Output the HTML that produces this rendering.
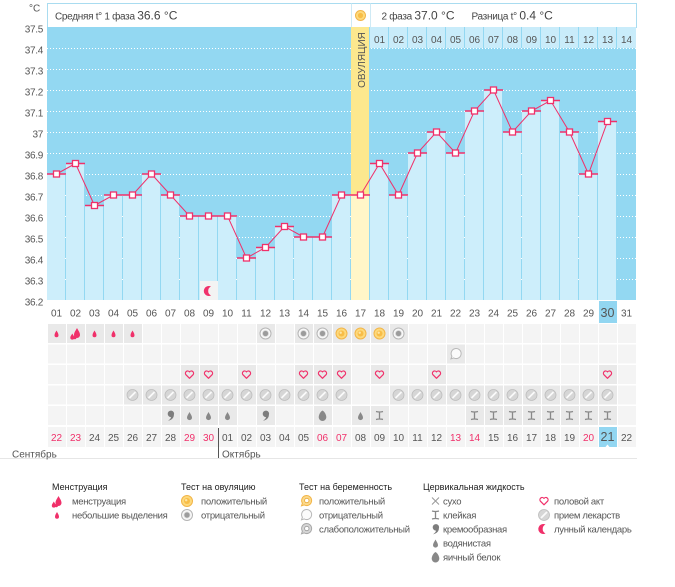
<!DOCTYPE html>
<html><head><meta charset="utf-8">
<style>
html,body{margin:0;padding:0;background:#fff;}
svg{display:block;}
.t{font-family:"Liberation Sans",sans-serif;font-size:10px;fill:#555;}
.h{font-family:"Liberation Sans",sans-serif;font-size:10px;fill:#444;letter-spacing:-0.3px;}
.lg{font-family:"Liberation Sans",sans-serif;font-size:9px;fill:#222;}
.li{font-family:"Liberation Sans",sans-serif;font-size:9.5px;fill:#555;letter-spacing:-0.3px;}
.r{fill:#f0306a;}
</style></head>
<body>
<svg width="675" height="587" viewBox="0 0 675 587" xmlns="http://www.w3.org/2000/svg">
<defs>
<pattern id="pl" x="47" y="0" width="19" height="600" patternUnits="userSpaceOnUse"><rect x="1" y="0" width="18" height="600" fill="#f4f4f4"/></pattern>
<pattern id="pd" x="47" y="0" width="19" height="600" patternUnits="userSpaceOnUse"><rect x="1" y="0" width="18" height="600" fill="#e9e9e9"/></pattern>
<g id="drop"><path d="M0,-3.5 C0.8,-2 2,-0.5 2,1.2 A2,2 0 0 1 -2,1.2 C-2,-0.5 -0.8,-2 0,-3.5Z" fill="#f0306a"/></g>
<g id="mens"><path d="M1.5,-6 C2.7,-3.6 4.5,-1.6 4.5,1 A3,3 0 0 1 -1.5,1 C-1.5,-1.6 0.3,-3.6 1.5,-6Z" fill="#f0306a"/><path d="M-3.2,-0.5 C-2.4,1 -1.2,2.2 -1.2,3.6 A2,2 0 0 1 -5.2,3.6 C-5.2,2.2 -4,1 -3.2,-0.5Z" fill="#f0306a"/><path d="M-0.6,1 C0,2 0.9,2.8 0.9,3.8 A1.5,1.5 0 0 1 -2.1,3.8 C-2.1,2.8 -1.2,2 -0.6,1Z" fill="#f0306a"/></g>
<g id="ovp"><circle r="5.5" fill="#fdd97c" stroke="#f2b548" stroke-width="1"/><circle r="3" fill="#f8bd47"/><circle cx="-0.8" cy="-0.8" r="1.2" fill="#fde6a8"/></g>
<g id="ovn"><circle r="5.5" fill="#f8f8f8" stroke="#b5b5b5" stroke-width="1"/><circle r="3" fill="#9c9c9c" stroke="#d8d8d8" stroke-width="0.8"/></g>
<g id="pgn"><path d="M-4.5,4.8 L-3.6,2.2 A5,5 0 1 1 -1.8,3.9 Z" fill="#fbfbfb" stroke="#b8b8b8" stroke-width="1"/></g>
<g id="pgp"><path d="M-4.5,4.8 L-3.6,2.2 A5,5 0 1 1 -1.8,3.9 Z" fill="#fcd98a" stroke="#f2b548" stroke-width="1"/><circle cx="0.8" cy="-0.5" r="2.2" fill="#fff" stroke="#e8a93a" stroke-width="0.8"/></g>
<g id="pgw"><path d="M-4.5,4.8 L-3.6,2.2 A5,5 0 1 1 -1.8,3.9 Z" fill="#d6d6d6" stroke="#a8a8a8" stroke-width="1"/><circle cx="0.8" cy="-0.5" r="2.2" fill="#fff" stroke="#999" stroke-width="0.8"/></g>
<g id="hrt"><path d="M0,3.8 L-3.6,0.2 A2,2 0 0 1 0,-2.6 A2,2 0 0 1 3.6,0.2 Z" fill="none" stroke="#f0306a" stroke-width="1.2" stroke-linejoin="round"/></g>
<g id="pil"><circle r="5.5" fill="#d6d6d6" stroke="#bdbdbd" stroke-width="0.8"/><path d="M-3,3 L3,-3" stroke="#fafafa" stroke-width="1.8"/></g>
<g id="crm"><path d="M-2.8,-1.6 A3.2,3.2 0 1 1 3.4,-0.6 C3.4,2.6 1,4.6 -2.6,5.4 C-0.4,3.8 0.6,2.4 0.4,1.6 A3.2,3.2 0 0 1 -2.8,-1.6Z" fill="#7d7d7d"/></g>
<g id="wat"><path d="M0,-4 C1.2,-1.8 2.5,0 2.5,1.6 A2.5,2.5 0 0 1 -2.5,1.6 C-2.5,0 -1.2,-1.8 0,-4Z" fill="#888"/></g>
<g id="egg"><path d="M0,-5.5 C2.5,-4 3.8,-0.8 3.8,1.2 A3.8,3.8 0 0 1 -3.8,1.2 C-3.8,-0.8 -2.5,-4 0,-5.5Z" fill="#888"/></g>
<g id="stk"><path d="M-3.5,-4 Q0,-3 3.5,-4 M0,-3.5 V3.5 M-3.5,4 Q0,3 3.5,4" fill="none" stroke="#888" stroke-width="1.3"/></g>
<g id="dry"><path d="M-3.5,-3.5 L3.5,3.5 M3.5,-3.5 L-3.5,3.5" stroke="#999" stroke-width="1"/></g>
<g id="moon"><path d="M2,-4.5 A5,5 0 1 0 2,4.5 A5,5 0 0 1 2,-4.5Z" fill="#f0306a"/></g>
</defs>

<!-- header box -->
<rect x="47.5" y="3.5" width="589" height="24" fill="#fff" stroke="#a9dcf0"/>
<line x1="351.5" y1="3.5" x2="351.5" y2="27" stroke="#cfeaf5"/>
<line x1="370.5" y1="3.5" x2="370.5" y2="27" stroke="#cfeaf5"/>
<text class="h" x="55" y="19.5">Средняя t° 1 фаза <tspan font-size="12" letter-spacing="0">36.6 °C</tspan></text>
<g transform="translate(360.5,15.5)"><circle r="5" fill="#fdd97c" stroke="#f2b548"/><circle r="2.6" fill="#f8bd47"/></g>
<text class="h" x="381.5" y="19.5">2 фаза <tspan font-size="12" letter-spacing="0">37.0 °C</tspan></text>
<text class="h" x="471.5" y="19.5">Разница t° <tspan font-size="12" letter-spacing="0">0.4 °C</tspan></text>

<!-- y axis -->
<text class="t" x="29" y="11.5" font-size="12">°C</text>
<g class="t" text-anchor="end" letter-spacing="-0.3">
<text x="43" y="32.5">37.5</text>
<text x="43" y="53.5">37.4</text>
<text x="43" y="74.5">37.3</text>
<text x="43" y="95.5">37.2</text>
<text x="43" y="116.5">37.1</text>
<text x="43" y="137.5">37</text>
<text x="43" y="158.5">36.9</text>
<text x="43" y="179.5">36.8</text>
<text x="43" y="200.5">36.7</text>
<text x="43" y="221.5">36.6</text>
<text x="43" y="242.5">36.5</text>
<text x="43" y="263.5">36.4</text>
<text x="43" y="284.5">36.3</text>
<text x="43" y="305.5">36.2</text>
</g>

<!-- chart bg -->
<rect x="47" y="27" width="589" height="273" fill="#93d8f2"/>
<g stroke="#ffffff" stroke-dasharray="1 2" stroke-width="1">
<line x1="47" y1="48.5" x2="636" y2="48.5"/>
<line x1="47" y1="69.5" x2="636" y2="69.5"/>
<line x1="47" y1="90.5" x2="636" y2="90.5"/>
<line x1="47" y1="111.5" x2="636" y2="111.5"/>
<line x1="47" y1="132.5" x2="636" y2="132.5"/>
<line x1="47" y1="153.5" x2="636" y2="153.5"/>
<line x1="47" y1="174.5" x2="636" y2="174.5"/>
<line x1="47" y1="195.5" x2="636" y2="195.5"/>
<line x1="47" y1="216.5" x2="636" y2="216.5"/>
<line x1="47" y1="237.5" x2="636" y2="237.5"/>
<line x1="47" y1="258.5" x2="636" y2="258.5"/>
<line x1="47" y1="279.5" x2="636" y2="279.5"/>
</g>
<!-- ovulation column -->
<rect x="351" y="27" width="18" height="273" fill="#fce88e"/>
<text class="t" transform="translate(365,60) rotate(-90)" text-anchor="middle">ОВУЛЯЦИЯ</text>

<!-- phase 2 header -->
<g fill="#c9ecfa">
<rect x="370" y="27" width="18" height="21"/><rect x="389" y="27" width="18" height="21"/><rect x="408" y="27" width="18" height="21"/><rect x="427" y="27" width="18" height="21"/><rect x="446" y="27" width="18" height="21"/><rect x="465" y="27" width="18" height="21"/><rect x="484" y="27" width="18" height="21"/><rect x="503" y="27" width="18" height="21"/><rect x="522" y="27" width="18" height="21"/><rect x="541" y="27" width="18" height="21"/><rect x="560" y="27" width="18" height="21"/><rect x="579" y="27" width="18" height="21"/><rect x="598" y="27" width="18" height="21"/><rect x="617" y="27" width="19" height="21"/>
</g>
<g class="t" text-anchor="middle">
<text x="379.5" y="43">01</text><text x="398.5" y="43">02</text><text x="417.5" y="43">03</text><text x="436.5" y="43">04</text><text x="455.5" y="43">05</text><text x="474.5" y="43">06</text><text x="493.5" y="43">07</text><text x="512.5" y="43">08</text><text x="531.5" y="43">09</text><text x="550.5" y="43">10</text><text x="569.5" y="43">11</text><text x="588.5" y="43">12</text><text x="607.5" y="43">13</text><text x="626.5" y="43">14</text>
</g>

<!-- bars -->
<g fill="#cdeefb">
<rect x="47" y="174" width="18" height="126"/>
<rect x="66" y="163.5" width="18" height="136.5"/>
<rect x="85" y="205.5" width="18" height="94.5"/>
<rect x="104" y="195" width="18" height="105"/>
<rect x="123" y="195" width="18" height="105"/>
<rect x="142" y="174" width="18" height="126"/>
<rect x="161" y="195" width="18" height="105"/>
<rect x="180" y="216" width="18" height="84"/>
<rect x="199" y="216" width="18" height="84"/>
<rect x="218" y="216" width="18" height="84"/>
<rect x="237" y="258" width="18" height="42"/>
<rect x="256" y="247.5" width="18" height="52.5"/>
<rect x="275" y="226.5" width="18" height="73.5"/>
<rect x="294" y="237" width="18" height="63"/>
<rect x="313" y="237" width="18" height="63"/>
<rect x="332" y="195" width="18" height="105"/>
<rect x="351" y="195" width="18" height="105" fill="#fff6c8"/>
<rect x="370" y="163.5" width="18" height="136.5"/>
<rect x="389" y="195" width="18" height="105"/>
<rect x="408" y="153" width="18" height="147"/>
<rect x="427" y="132" width="18" height="168"/>
<rect x="446" y="153" width="18" height="147"/>
<rect x="465" y="111" width="18" height="189"/>
<rect x="484" y="90" width="18" height="210"/>
<rect x="503" y="132" width="18" height="168"/>
<rect x="522" y="111" width="18" height="189"/>
<rect x="541" y="100.5" width="18" height="199.5"/>
<rect x="560" y="132" width="18" height="168"/>
<rect x="579" y="174" width="18" height="126"/>
<rect x="598" y="121.5" width="18" height="178.5"/>
</g>

<!-- moon box -->
<rect x="200" y="281" width="18" height="19" fill="#f3f3f3"/>
<use href="#moon" x="209" y="291"/>

<!-- connecting line -->
<polyline fill="none" stroke="#f0306a" stroke-width="1" points="56.5,174 75.5,163.5 94.5,205.5 113.5,195 132.5,195 151.5,174 170.5,195 189.5,216 208.5,216 227.5,216 246.5,258 265.5,247.5 284.5,226.5 303.5,237 322.5,237 341.5,195 360.5,195 379.5,163.5 398.5,195 417.5,153 436.5,132 455.5,153 474.5,111 493.5,90 512.5,132 531.5,111 550.5,100.5 569.5,132 588.5,174 607.5,121.5"/>
<!-- bar tops -->
<path fill="none" stroke="#f0306a" stroke-width="1.5" d="M47,174h19M66,163.5h19M85,205.5h19M104,195h19M123,195h19M142,174h19M161,195h19M180,216h19M199,216h19M218,216h19M237,258h19M256,247.5h19M275,226.5h19M294,237h19M313,237h19M332,195h19M351,195h19M370,163.5h19M389,195h19M408,153h19M427,132h19M446,153h19M465,111h19M484,90h19M503,132h19M522,111h19M541,100.5h19M560,132h19M579,174h19M598,121.5h19"/>
<!-- markers -->
<g fill="#fff" stroke="#f0306a" stroke-width="1.3">
<rect x="53.5" y="171" width="6" height="6"/>
<rect x="72.5" y="160.5" width="6" height="6"/>
<rect x="91.5" y="202.5" width="6" height="6"/>
<rect x="110.5" y="192" width="6" height="6"/>
<rect x="129.5" y="192" width="6" height="6"/>
<rect x="148.5" y="171" width="6" height="6"/>
<rect x="167.5" y="192" width="6" height="6"/>
<rect x="186.5" y="213" width="6" height="6"/>
<rect x="205.5" y="213" width="6" height="6"/>
<rect x="224.5" y="213" width="6" height="6"/>
<rect x="243.5" y="255" width="6" height="6"/>
<rect x="262.5" y="244.5" width="6" height="6"/>
<rect x="281.5" y="223.5" width="6" height="6"/>
<rect x="300.5" y="234" width="6" height="6"/>
<rect x="319.5" y="234" width="6" height="6"/>
<rect x="338.5" y="192" width="6" height="6"/>
<rect x="357.5" y="192" width="6" height="6"/>
<rect x="376.5" y="160.5" width="6" height="6"/>
<rect x="395.5" y="192" width="6" height="6"/>
<rect x="414.5" y="150" width="6" height="6"/>
<rect x="433.5" y="129" width="6" height="6"/>
<rect x="452.5" y="150" width="6" height="6"/>
<rect x="471.5" y="108" width="6" height="6"/>
<rect x="490.5" y="87" width="6" height="6"/>
<rect x="509.5" y="129" width="6" height="6"/>
<rect x="528.5" y="108" width="6" height="6"/>
<rect x="547.5" y="97.5" width="6" height="6"/>
<rect x="566.5" y="129" width="6" height="6"/>
<rect x="585.5" y="171" width="6" height="6"/>
<rect x="604.5" y="118.5" width="6" height="6"/>
</g>

<!-- day row under chart -->
<rect x="599" y="301" width="18" height="22" fill="#92d6f1"/>
<g class="t" text-anchor="middle">
<text x="56.5" y="316.5">01</text><text x="75.5" y="316.5">02</text><text x="94.5" y="316.5">03</text><text x="113.5" y="316.5">04</text><text x="132.5" y="316.5">05</text><text x="151.5" y="316.5">06</text><text x="170.5" y="316.5">07</text><text x="189.5" y="316.5">08</text><text x="208.5" y="316.5">09</text><text x="227.5" y="316.5">10</text><text x="246.5" y="316.5">11</text><text x="265.5" y="316.5">12</text><text x="284.5" y="316.5">13</text><text x="303.5" y="316.5">14</text><text x="322.5" y="316.5">15</text><text x="341.5" y="316.5">16</text><text x="360.5" y="316.5">17</text><text x="379.5" y="316.5">18</text><text x="398.5" y="316.5">19</text><text x="417.5" y="316.5">20</text><text x="436.5" y="316.5">21</text><text x="455.5" y="316.5">22</text><text x="474.5" y="316.5">23</text><text x="493.5" y="316.5">24</text><text x="512.5" y="316.5">25</text><text x="531.5" y="316.5">26</text><text x="550.5" y="316.5">27</text><text x="569.5" y="316.5">28</text><text x="588.5" y="316.5">29</text><text x="607.5" y="317" font-size="12.5">30</text><text x="626.5" y="316.5">31</text>
</g>

<!-- grid rows -->
<rect x="47" y="324" width="589" height="19" fill="url(#pl)"/>
<rect x="47" y="344.5" width="589" height="19" fill="url(#pl)"/>
<rect x="47" y="365" width="589" height="19" fill="url(#pl)"/>
<rect x="47" y="385.5" width="589" height="19" fill="url(#pl)"/>
<rect x="47" y="406" width="589" height="19" fill="url(#pl)"/>
<rect x="47" y="427" width="589" height="20" fill="url(#pl)"/>
<!-- dark cells -->
<g fill="url(#pd)">
<rect x="47" y="324" width="95" height="19"/><rect x="256" y="324" width="19" height="19"/><rect x="294" y="324" width="114" height="19"/>
<rect x="446" y="344.5" width="19" height="19"/>
<rect x="180" y="365" width="38" height="19"/><rect x="237" y="365" width="19" height="19"/><rect x="294" y="365" width="57" height="19"/><rect x="370" y="365" width="19" height="19"/><rect x="427" y="365" width="19" height="19"/><rect x="598" y="365" width="19" height="19"/>
<rect x="123" y="385.5" width="228" height="19"/><rect x="389" y="385.5" width="228" height="19"/>
<rect x="161" y="406" width="76" height="19"/><rect x="256" y="406" width="19" height="19"/><rect x="313" y="406" width="19" height="19"/><rect x="351" y="406" width="38" height="19"/><rect x="465" y="406" width="152" height="19"/>
</g>
<!-- row1 icons -->
<use href="#drop" x="56.5" y="334"/>
<use href="#mens" x="75.5" y="334"/>
<use href="#drop" x="94.5" y="334"/>
<use href="#drop" x="113.5" y="334"/>
<use href="#drop" x="132.5" y="334"/>
<use href="#ovn" x="265.5" y="333.5"/>
<use href="#ovn" x="303.5" y="333.5"/>
<use href="#ovn" x="322.5" y="333.5"/>
<use href="#ovp" x="341.5" y="333.5"/>
<use href="#ovp" x="360.5" y="333.5"/>
<use href="#ovp" x="379.5" y="333.5"/>
<use href="#ovn" x="398.5" y="333.5"/>
<!-- row2 -->
<use href="#pgn" x="455.5" y="354"/>
<!-- row3 hearts -->
<use href="#hrt" x="189.5" y="374.5"/>
<use href="#hrt" x="208.5" y="374.5"/>
<use href="#hrt" x="246.5" y="374.5"/>
<use href="#hrt" x="303.5" y="374.5"/>
<use href="#hrt" x="322.5" y="374.5"/>
<use href="#hrt" x="341.5" y="374.5"/>
<use href="#hrt" x="379.5" y="374.5"/>
<use href="#hrt" x="436.5" y="374.5"/>
<use href="#hrt" x="607.5" y="374.5"/>
<!-- row4 pills -->
<use href="#pil" x="132.5" y="395"/><use href="#pil" x="151.5" y="395"/><use href="#pil" x="170.5" y="395"/><use href="#pil" x="189.5" y="395"/><use href="#pil" x="208.5" y="395"/><use href="#pil" x="227.5" y="395"/><use href="#pil" x="246.5" y="395"/><use href="#pil" x="265.5" y="395"/><use href="#pil" x="284.5" y="395"/><use href="#pil" x="303.5" y="395"/><use href="#pil" x="322.5" y="395"/><use href="#pil" x="341.5" y="395"/>
<use href="#pil" x="398.5" y="395"/><use href="#pil" x="417.5" y="395"/><use href="#pil" x="436.5" y="395"/><use href="#pil" x="455.5" y="395"/><use href="#pil" x="474.5" y="395"/><use href="#pil" x="493.5" y="395"/><use href="#pil" x="512.5" y="395"/><use href="#pil" x="531.5" y="395"/><use href="#pil" x="550.5" y="395"/><use href="#pil" x="569.5" y="395"/><use href="#pil" x="588.5" y="395"/><use href="#pil" x="607.5" y="395"/>
<!-- row5 cervical -->
<use href="#crm" x="170.5" y="415.5"/>
<use href="#wat" x="189.5" y="416"/>
<use href="#wat" x="208.5" y="416"/>
<use href="#wat" x="227.5" y="416"/>
<use href="#crm" x="265.5" y="415.5"/>
<use href="#egg" x="322.5" y="416"/>
<use href="#wat" x="360.5" y="416"/>
<use href="#stk" x="379.5" y="415.5"/>
<use href="#stk" x="474.5" y="415.5"/><use href="#stk" x="493.5" y="415.5"/><use href="#stk" x="512.5" y="415.5"/><use href="#stk" x="531.5" y="415.5"/><use href="#stk" x="550.5" y="415.5"/><use href="#stk" x="569.5" y="415.5"/><use href="#stk" x="588.5" y="415.5"/><use href="#stk" x="607.5" y="415.5"/>

<!-- date row -->
<rect x="599" y="427" width="18" height="20" fill="#92d6f1"/>
<path d="M605.5,447 L607.5,444.5 L609.5,447Z" fill="#fff"/>
<g class="t" text-anchor="middle">
<text x="56.5" y="441" class="r">22</text><text x="75.5" y="441" class="r">23</text><text x="94.5" y="441">24</text><text x="113.5" y="441">25</text><text x="132.5" y="441">26</text><text x="151.5" y="441">27</text><text x="170.5" y="441">28</text><text x="189.5" y="441" class="r">29</text><text x="208.5" y="441" class="r">30</text><text x="227.5" y="441">01</text><text x="246.5" y="441">02</text><text x="265.5" y="441">03</text><text x="284.5" y="441">04</text><text x="303.5" y="441">05</text><text x="322.5" y="441" class="r">06</text><text x="341.5" y="441" class="r">07</text><text x="360.5" y="441">08</text><text x="379.5" y="441">09</text><text x="398.5" y="441">10</text><text x="417.5" y="441">11</text><text x="436.5" y="441">12</text><text x="455.5" y="441" class="r">13</text><text x="474.5" y="441" class="r">14</text><text x="493.5" y="441">15</text><text x="512.5" y="441">16</text><text x="531.5" y="441">17</text><text x="550.5" y="441">18</text><text x="569.5" y="441">19</text><text x="588.5" y="441" class="r">20</text><text x="607.5" y="441" font-size="12.5">21</text><text x="626.5" y="441">22</text>
</g>
<line x1="218.5" y1="428" x2="218.5" y2="458" stroke="#555" stroke-width="1"/>
<line x1="0" y1="458.5" x2="637" y2="458.5" stroke="#e6e6e6" stroke-width="1"/>
<text class="t" x="12" y="457.5" font-size="11">Сентябрь</text>
<text class="t" x="222" y="457.5" font-size="11">Октябрь</text>

<!-- legend -->
<text class="lg" x="52" y="490">Менструация</text>
<use href="#mens" x="57" y="502"/>
<text class="li" x="72" y="504.5">менструация</text>
<use href="#drop" x="57" y="515.5"/>
<text class="li" x="72" y="518.5">небольшие выделения</text>

<text class="lg" x="181" y="490">Тест на овуляцию</text>
<use href="#ovp" x="187" y="501"/>
<text class="li" x="201" y="504.5">положительный</text>
<use href="#ovn" x="187" y="515"/>
<text class="li" x="201" y="518.5">отрицательный</text>

<text class="lg" x="299" y="490">Тест на беременность</text>
<use href="#pgp" x="306" y="501"/>
<text class="li" x="319" y="504.5">положительный</text>
<use href="#pgn" x="306" y="515"/>
<text class="li" x="319" y="518.5">отрицательный</text>
<use href="#pgw" x="306" y="529"/>
<text class="li" x="319" y="532.5">слабоположительный</text>

<text class="lg" x="423" y="490">Цервикальная жидкость</text>
<use href="#dry" x="435.5" y="501"/>
<text class="li" x="443" y="504.5">сухо</text>
<use href="#stk" x="435.5" y="515"/>
<text class="li" x="443" y="518.5">клейкая</text>
<use href="#crm" x="435.5" y="529"/>
<text class="li" x="443" y="532.5">кремообразная</text>
<use href="#wat" x="435.5" y="543.5"/>
<text class="li" x="443" y="546.5">водянистая</text>
<use href="#egg" x="435.5" y="557.5"/>
<text class="li" x="443" y="560.5">яичный белок</text>

<use href="#hrt" x="544" y="501"/>
<text class="li" x="554" y="504.5">половой акт</text>
<use href="#pil" x="544" y="515"/>
<text class="li" x="554" y="518.5">прием лекарств</text>
<use href="#moon" x="543.5" y="529"/>
<text class="li" x="554" y="532.5">лунный календарь</text>
</svg>
</body></html>
